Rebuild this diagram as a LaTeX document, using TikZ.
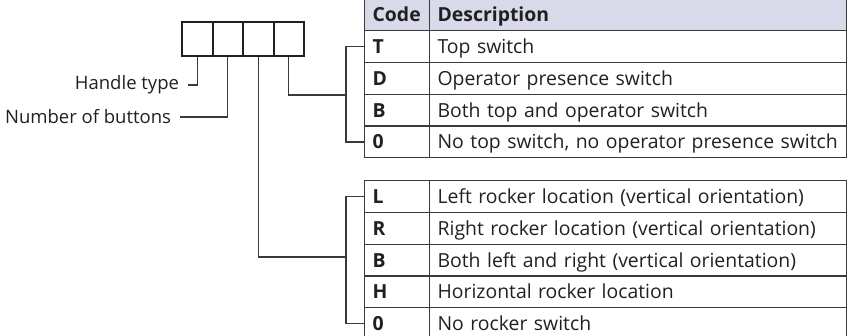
\documentclass[tikz,border=0pt]{standalone}
\usepackage{fontspec}
\setmainfont{Open Sans}
\usetikzlibrary{positioning}
\definecolor{hdrfill}{HTML}{D8DAEA}
\definecolor{rulegray}{HTML}{3A3A3A}
\definecolor{inkblack}{HTML}{231F20}
\newcommand\tablefont{\fontsize{19.4}{22}\selectfont}
\newcommand\labelfont{\fontsize{18.5}{21}\selectfont}
\tikzset{
  digitbox/.style={draw=inkblack, line width=2pt, minimum width=30.5pt, minimum height=34pt, inner sep=0pt},
  codecell/.style={draw=rulegray, line width=1.2pt, anchor=north west, inner xsep=8pt, inner ysep=0pt,
    text width=49pt, minimum height=31.8pt, text height=15pt, text depth=1.2pt, align=left,
    font=\tablefont\bfseries, text=inkblack},
  desccell/.style={draw=rulegray, line width=1.2pt, anchor=north west, inner xsep=8pt, inner ysep=0pt,
    text width=401pt, minimum height=31.8pt, text height=15pt, text depth=1.2pt, align=left,
    font=\tablefont, text=inkblack},
  leader/.style={draw=rulegray, line width=1.2pt},
  sidelabel/.style={anchor=east, inner sep=0pt, outer xsep=9pt, font=\labelfont, text=inkblack}
}
\begin{document}
\begin{tikzpicture}[x=1pt, y=-1pt]
  \useasboundingbox (0,0) rectangle (849,335);
  % the four code positions
  \node[digitbox] (b1) at (197.25,39) {};
  \node[digitbox] (b2) at (227.75,39) {};
  \node[digitbox] (b3) at (258.25,39) {};
  \node[digitbox] (b4) at (288.75,39) {};
  % labels on the left
  \node[sidelabel] (ht) at (188,85) {Handle type};
  \node[sidelabel] (nb) at (180,117) {Number of buttons};
  \draw[leader] (b1.south) |- (ht.east);
  \draw[leader] (b2.south) |- (nb.east);
  % switch table
  \node[codecell, fill=hdrfill] (top-c0) at (364,-1.8) {Code};
  \node[desccell, fill=hdrfill, font=\tablefont\bfseries] (top-d0) at (429,-1.8) {Description};
  \foreach \c/\d [count=\i] in {T/Top switch, D/Operator presence switch,
      B/Both top and operator switch, 0/{No top switch, no operator presence switch}} {
    \node[codecell] (top-c\i) at (364,-1.8+31.8*\i) {\c};
    \node[desccell] (top-d\i) at (429,-1.8+31.8*\i) {\d};
  }
  % rocker table
  \foreach \c/\d [count=\i] in {L/Left rocker location (vertical orientation),
      R/Right rocker location (vertical orientation), B/Both left and right (vertical orientation),
      H/Horizontal rocker location, 0/No rocker switch} {
    \node[codecell] (bot-c\i) at (364,180+31.8*\i-31.8) {\c};
    \node[desccell] (bot-d\i) at (429,180+31.8*\i-31.8) {\d};
  }
  % brackets
  \coordinate (bra1) at (346,95);
  \coordinate (bra2) at (346,257);
  \draw[leader] (b4.south) |- (bra1);
  \draw[leader] (top-c1.west) -| (bra1) |- (top-c4.west);
  \draw[leader] (b3.south) |- (bra2);
  \draw[leader] (bot-c1.west) -| (bra2) |- (bot-c5.west);
\end{tikzpicture}
\end{document}
